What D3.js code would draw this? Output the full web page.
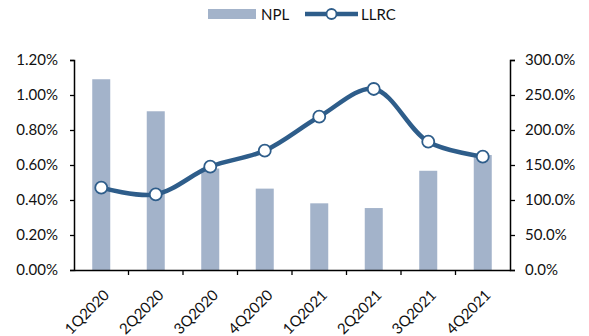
<!DOCTYPE html>
<html><head><meta charset="utf-8">
<script src="https://cdn.jsdelivr.net/npm/d3@7"></script>
<style>body{margin:0;background:#fff}svg{display:block}text{font-family:Lato,"Open Sans",sans-serif;fill:#111}</style>
</head><body><svg id="c" width="589" height="336"></svg>
<script>
const categories = ["1Q2020","2Q2020","3Q2020","4Q2020","1Q2021","2Q2021","3Q2021","4Q2021"];
const npl = [1.09, 0.907, 0.58, 0.465, 0.381, 0.354, 0.567, 0.657];
const llrc = [117.6, 108.0, 147.6, 170.5, 219.0, 258.6, 183.3, 161.9];
const leftTicks = [0, 0.2, 0.4, 0.6, 0.8, 1.0, 1.2];
const rightTicks = [0, 50, 100, 150, 200, 250, 300];
const seriesNames = ["NPL", "LLRC"];

const barColor = "#a3b3ca", lineColor = "#2e5d8a";
const svg = d3.select("#c");
const L = 74, R = 510, T = 60, B = 270;
const x = d3.scaleBand().domain(categories).range([L, R]);
const yL = d3.scaleLinear().domain([0, 1.2]).range([B, T]);
const yR = d3.scaleLinear().domain([0, 300]).range([B, T]);

// bars
svg.append("g").selectAll("rect").data(npl).join("rect")
  .attr("x", (d,i) => x(categories[i]) + x.bandwidth()/2 - 9)
  .attr("width", 18)
  .attr("y", d => yL(d)).attr("height", d => B - yL(d))
  .attr("fill", barColor);

// axes
const axL = svg.append("g").attr("transform", `translate(${L},0)`)
  .call(d3.axisLeft(yL).tickValues(leftTicks).tickFormat(d => d.toFixed(2) + "%").tickSize(4).tickSizeOuter(4).tickPadding(12));
const axR = svg.append("g").attr("transform", `translate(${R},0)`)
  .call(d3.axisRight(yR).tickValues(rightTicks).tickFormat(d => d.toFixed(1) + "%").tickSize(5).tickSizeOuter(5).tickPadding(10));
const axB = svg.append("g").attr("transform", `translate(0,${B})`)
  .call(d3.axisBottom(x).tickSize(0).tickSizeOuter(0).tickPadding(0));
[axL, axR, axB].forEach(a => {
  a.selectAll("path.domain").attr("stroke", "#000").attr("stroke-width", 1.5);
  a.selectAll("line").attr("stroke", "#000").attr("stroke-width", 1.3);
  a.selectAll("text").style("font-size", "15px").attr("fill", "#111");
});
// tick marks between categories on x axis
svg.append("g").selectAll("line").data(categories.slice(1)).join("line")
  .attr("x1", d => x(d)).attr("x2", d => x(d))
  .attr("y1", B).attr("y2", B + 5)
  .attr("stroke", "#000").attr("stroke-width", 1.3);
axB.selectAll(".tick text")
  .attr("text-anchor", "end")
  .attr("dy", "0")
  .attr("transform", "translate(9,26) rotate(-45)");

// line
const line = d3.line()
  .x((d,i) => x(categories[i]) + x.bandwidth()/2)
  .y(d => yR(d))
  .curve(d3.curveCatmullRom.alpha(0.5));
svg.append("path").datum(llrc).attr("d", line)
  .attr("fill", "none").attr("stroke", lineColor).attr("stroke-width", 4.5);
svg.append("g").selectAll("circle").data(llrc).join("circle")
  .attr("cx", (d,i) => x(categories[i]) + x.bandwidth()/2)
  .attr("cy", d => yR(d)).attr("r", 6)
  .attr("fill", "#fff").attr("stroke", lineColor).attr("stroke-width", 1.8);

// legend
const lg = svg.append("g");
lg.append("rect").attr("x", 208).attr("y", 9).attr("width", 48).attr("height", 10).attr("fill", barColor);
lg.append("text").attr("x", 261).attr("y", 19.5).style("font-size", "15px").text(seriesNames[0]);
lg.append("line").attr("x1", 305).attr("x2", 358).attr("y1", 14).attr("y2", 14)
  .attr("stroke", lineColor).attr("stroke-width", 4.5);
lg.append("circle").attr("cx", 331.5).attr("cy", 14).attr("r", 5)
  .attr("fill", "#fff").attr("stroke", lineColor).attr("stroke-width", 1.8);
lg.append("text").attr("x", 361).attr("y", 19.5).style("font-size", "15px").text(seriesNames[1]);
</script></body></html>
